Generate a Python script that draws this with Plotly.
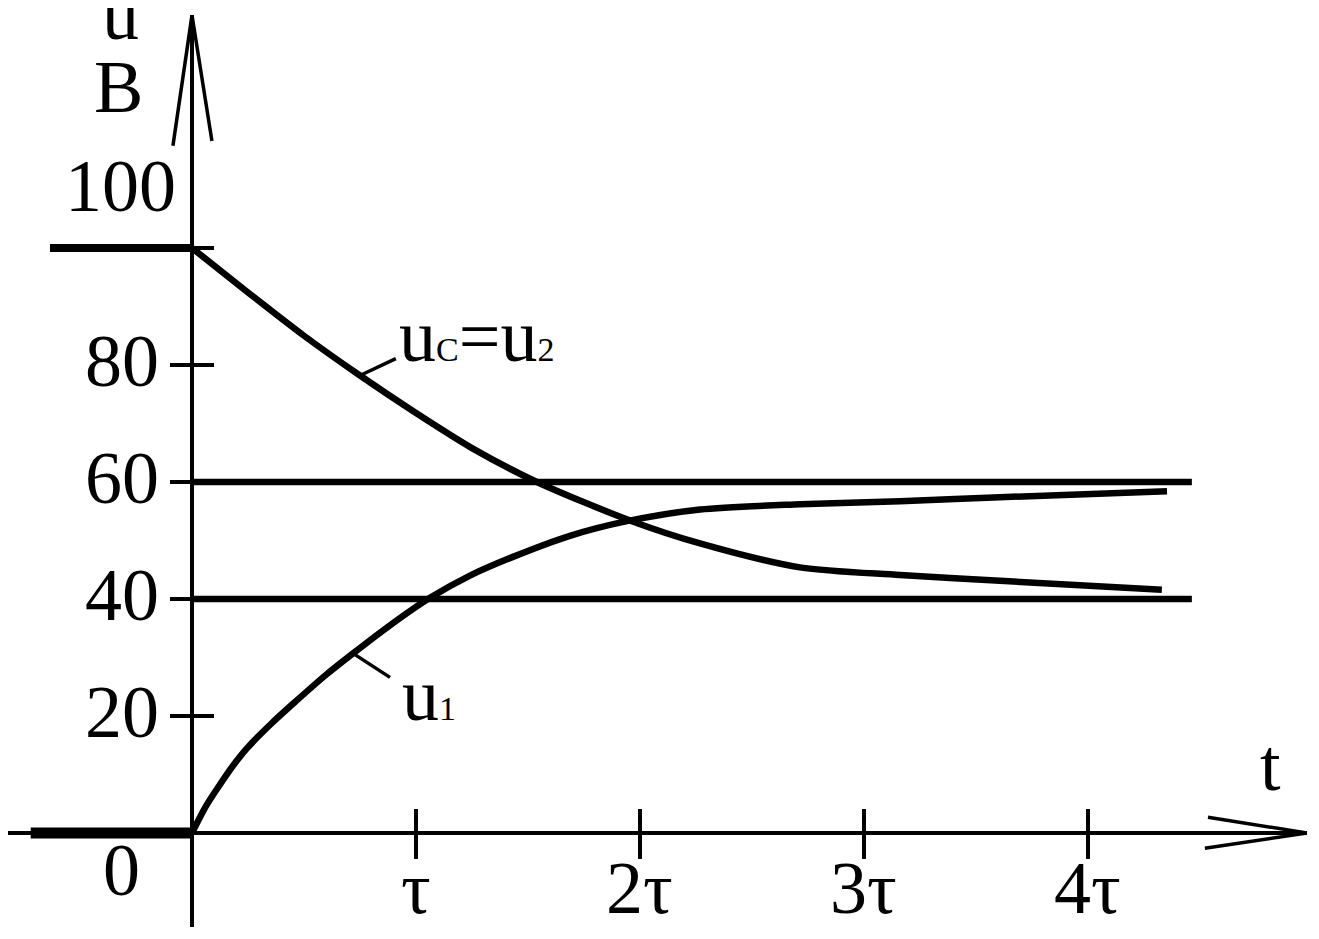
import plotly.graph_objects as go

# ---------------- data ----------------
t_ticks = [1, 2, 3, 4]
t_tick_labels = ["τ", "2τ", "3τ", "4τ"]
u_ticks = [20, 40, 60, 80, 100]
u_tick_labels = ["20", "40", "60", "80", "100"]

# capacitor voltage u_C = u_2 (decaying from 100 V)
uc_t = [0, 0.25, 0.5, 0.75, 1.0, 1.25, 1.54, 1.964, 2.268, 2.714, 3.161, 3.607, 4.33]
uc_v = [100, 92.4, 85.0, 78.2, 71.8, 65.8, 60.0, 53.3, 49.5, 45.4, 44.1, 43.1, 41.6]

# resistor voltage u_1 (rising from 0 V)
u1_t = [0, 0.0625, 0.125, 0.183, 0.246, 0.357, 0.469, 0.594, 0.719, 0.884, 1.0625,
        1.241, 1.433, 1.6875, 1.942, 2.268, 2.714, 3.161, 3.607, 4.353]
u1_v = [0, 4.6, 8.3, 11.5, 14.5, 18.8, 22.7, 26.9, 30.7, 35.5, 40.2,
        44.0, 47.2, 50.8, 53.3, 55.3, 56.2, 56.7, 57.4, 58.4]

# values before switching (t < 0)
uc_pre_t = [-0.634, 0]
uc_pre_v = [100, 100]
u1_pre_t = [-0.72, 0]
u1_pre_v = [0, 0]

# steady-state levels
steady_values = [60, 40]
steady_t = [0, 4.464]

# ---------------- figure ----------------
FONT = "Liberation Serif, Times New Roman, serif"
BIG = 74
SMALL = 34
BLACK = "#000000"

fig = go.Figure()

def line(x, y, w):
    fig.add_trace(go.Scatter(x=x, y=y, mode="lines", showlegend=False, hoverinfo="skip",
                             line=dict(color=BLACK, width=w)))

line(u1_pre_t, u1_pre_v, 11)
line(uc_pre_t, uc_pre_v, 8)
for v in steady_values:
    line(steady_t, [v, v], 6.5)

fig.add_trace(go.Scatter(x=uc_t, y=uc_v, mode="lines", showlegend=False, hoverinfo="skip",
                         line=dict(color=BLACK, width=6.5, shape="spline", smoothing=0.8)))
fig.add_trace(go.Scatter(x=u1_t, y=u1_v, mode="lines", showlegend=False, hoverinfo="skip",
                         line=dict(color=BLACK, width=6.5, shape="spline", smoothing=0.8)))

# invisible trace to activate the overlay axes (used for crossing tick marks)
fig.add_trace(go.Scatter(x=[0], y=[0], xaxis="x2", yaxis="y2", mode="markers",
                         marker=dict(opacity=0), showlegend=False, hoverinfo="skip"))

XR = [-0.8214, 4.978]
YR = [-16.07, 139.83]
XPOS = 0.1031   # where u = 0 sits in the plot height
YPOS = 0.14165  # where t = 0 sits in the plot width

common = dict(showgrid=False, zeroline=False, showticklabels=False, fixedrange=True,
              automargin=False, tickcolor=BLACK, tickwidth=4)

fig.update_layout(
    width=1311, height=931,
    margin=dict(l=0, r=12, t=7, b=12),
    paper_bgcolor="white", plot_bgcolor="white",
    font=dict(family=FONT, color=BLACK),
    xaxis=dict(range=XR, anchor="free", position=XPOS, showline=True, linecolor=BLACK,
               linewidth=4, ticks="outside", ticklen=24, tickvals=t_ticks, **common),
    xaxis2=dict(range=XR, overlaying="x", anchor="free", position=XPOS, side="top",
                showline=False, ticks="outside", ticklen=24, tickvals=t_ticks, **common),
    yaxis=dict(range=YR, anchor="free", position=YPOS, showline=True, linecolor=BLACK,
               linewidth=4, ticks="outside", ticklen=20, tickvals=u_ticks, **common),
    yaxis2=dict(range=YR, overlaying="y", anchor="free", position=YPOS, side="right",
                showline=False, ticks="outside", ticklen=21, tickvals=u_ticks, **common),
)

# axis arrowheads (open V shapes)
ytip = (0, 139.8)
for dx, dy in [(-0.085, 117.5), (0.089, 118.3)]:
    fig.add_shape(type="line", x0=ytip[0], y0=ytip[1], x1=dx, y1=dy, xref="x", yref="y",
                  line=dict(color=BLACK, width=3.5))
xtip = (4.978, 0)
for dx, dy in [(4.536, 2.7), (4.522, -2.6)]:
    fig.add_shape(type="line", x0=xtip[0], y0=xtip[1], x1=dx, y1=dy, xref="x", yref="y",
                  line=dict(color=BLACK, width=3.5))

def text(x, y, s, xanchor="center", yanchor="middle", xshift=0, yshift=0, size=BIG,
         xref="x", yref="y"):
    fig.add_annotation(x=x, y=y, text=s, showarrow=False, xref=xref, yref=yref,
                       xanchor=xanchor, yanchor=yanchor, xshift=xshift, yshift=yshift,
                       font=dict(family=FONT, size=size, color=BLACK))

# y tick labels
for v, lab in zip(u_ticks, u_tick_labels):
    if v == 100:
        text(0, v, lab, xanchor="right", xshift=-14, yshift=62)
    else:
        text(0, v, lab, xanchor="right", xshift=-31, yshift=4)
text(0, 0, "0", xanchor="right", xshift=-50, yshift=-37)

# x tick labels
for v, lab in zip(t_ticks, t_tick_labels):
    text(v, 0, lab, yshift=-55)

# axis names
text(-0.321, 138.6, "u", yshift=8)
text(-0.326, 126.6, "B", yshift=5)
text(4.813, 10.5, "t", yshift=7)

# curve labels with leader lines
sub = "<span style='font-size:%dpx'>%s</span>"
uc_lbl = "u" + sub % (SMALL, "C") + "=u" + sub % (SMALL, "2")
u1_lbl = "u" + sub % (SMALL, "1")

i = 3
fig.add_shape(type="line", x0=uc_t[i], y0=uc_v[i], x1=uc_t[i] + 0.16, y1=uc_v[i] + 2.9,
              xref="x", yref="y", line=dict(color=BLACK, width=3.5))
text(uc_t[i], uc_v[i], uc_lbl, xanchor="left", xshift=37, yshift=40)

j = 8
fig.add_shape(type="line", x0=u1_t[j], y0=u1_v[j], x1=u1_t[j] + 0.165, y1=u1_v[j] - 4.1,
              xref="x", yref="y", line=dict(color=BLACK, width=3.5))
text(u1_t[j], u1_v[j], u1_lbl, xanchor="left", xshift=47, yshift=-42)

fig.write_html("out.html")
